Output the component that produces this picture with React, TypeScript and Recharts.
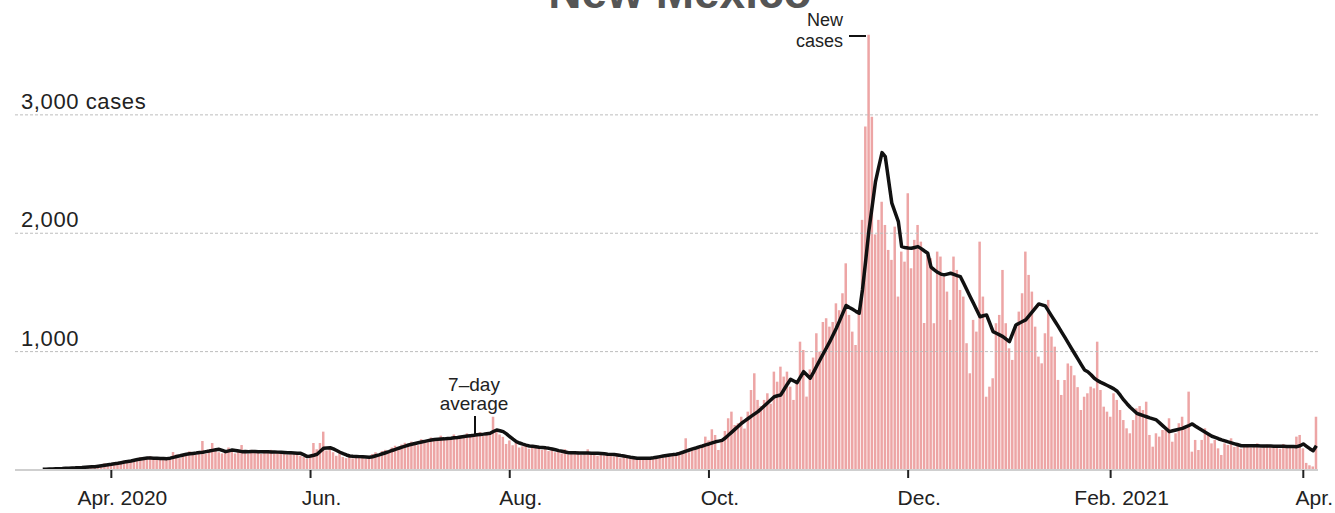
import React from "react";
import {
  ComposedChart,
  Bar,
  Line,
  XAxis,
  YAxis,
  ReferenceLine,
} from "recharts";

// daily new cases, day 0 = Mar. 11, 2020
const casesMar20 = [2, 1, 4, 6, 8, 3, 12, 14, 8, 17, 13, 18, 28, 19, 23, 27, 36, 34, 42, 57, 45];
const casesApr20 = [54, 40, 62, 70, 79, 60, 77, 91, 96, 110, 86, 100, 118, 93, 96, 99, 85, 105, 90, 152, 130, 100, 125, 140, 158, 134, 127, 156, 245, 138];
const casesMay20 = [172, 228, 180, 150, 140, 168, 190, 175, 140, 165, 211, 150, 138, 170, 155, 160, 135, 165, 150, 170, 140, 155, 148, 160, 130, 150, 145, 150, 120, 110, 95];
const casesJun20 = [130, 228, 175, 228, 324, 165, 180, 150, 120, 140, 110, 100, 125, 98, 118, 105, 120, 95, 110, 135, 150, 125, 160, 170, 150, 190, 205, 175, 215, 230];
const casesJul20 = [205, 240, 230, 210, 260, 250, 235, 275, 250, 245, 290, 260, 270, 255, 300, 265, 290, 280, 310, 285, 300, 295, 320, 290, 315, 305, 450, 330, 300, 280, 220];
const casesAug20 = [250, 210, 230, 190, 200, 215, 180, 205, 190, 200, 170, 195, 160, 185, 150, 165, 140, 175, 130, 150, 145, 160, 130, 140, 175, 135, 145, 120, 150, 125, 135];
const casesSep20 = [130, 115, 140, 100, 125, 105, 95, 110, 90, 105, 85, 100, 110, 95, 115, 120, 105, 130, 115, 140, 125, 155, 160, 268, 150, 185, 170, 200, 195, 282];
const casesOct20 = [250, 344, 296, 169, 260, 330, 437, 493, 380, 395, 450, 350, 493, 676, 817, 592, 540, 592, 648, 560, 831, 746, 873, 789, 831, 704, 592, 760, 1084, 1014, 620];
const casesNov20 = [850, 950, 1155, 1000, 1250, 1282, 1211, 1250, 1408, 1350, 1493, 1746, 1310, 1169, 1056, 1324, 2113, 2901, 3676, 2985, 1990, 2113, 2267, 2070, 1859, 1775, 2056, 1465, 1845, 1760];
const casesDec20 = [2338, 1704, 1944, 2070, 1929, 1242, 1831, 1789, 1240, 1845, 1803, 1633, 1507, 1268, 1803, 1690, 1521, 1465, 1071, 817, 1268, 1169, 1929, 1465, 619, 704, 775, 1240, 1310, 1690, 1240];
const casesJan21 = [1028, 930, 1211, 1338, 1493, 1845, 1648, 1507, 1211, 958, 901, 1155, 1437, 1127, 1042, 761, 634, 760, 900, 880, 800, 700, 507, 619, 648, 704, 690, 1084, 676, 535, 493];
const casesFeb21 = [450, 648, 592, 507, 422, 352, 310, 422, 521, 540, 507, 577, 296, 197, 310, 282, 338, 352, 437, 239, 310, 395, 450, 366, 662, 155, 254, 169];
const casesMar21 = [254, 352, 310, 225, 254, 183, 127, 225, 211, 268, 195, 230, 180, 210, 215, 190, 205, 225, 185, 200, 215, 190, 210, 205, 180, 220, 195, 200, 185, 282, 296];
const casesApr21 = [183, 60, 40, 30, 450];

// 7-day average
const avgMar20 = [6, 7, 8, 9, 10, 11, 12, 14, 15, 17, 18, 20, 21, 23, 25, 27, 28, 32, 36, 40, 44];
const avgApr20 = [48, 53, 57, 62, 67, 72, 76, 82, 88, 93, 97, 101, 101, 100, 99, 98, 97, 96, 100, 107, 114, 120, 127, 133, 137, 140, 143, 147, 150, 155];
const avgMay20 = [160, 166, 171, 175, 165, 155, 162, 169, 165, 160, 155, 156, 155, 157, 156, 155, 154, 155, 155, 153, 152, 151, 150, 148, 146, 145, 144, 142, 141, 128, 113];
const avgJun20 = [118, 125, 133, 158, 183, 186, 188, 178, 165, 150, 138, 127, 118, 116, 115, 113, 111, 109, 107, 112, 120, 128, 137, 146, 155, 165, 174, 184, 193, 202];
const avgJul20 = [211, 218, 224, 230, 236, 242, 248, 254, 257, 259, 261, 263, 266, 268, 272, 275, 279, 283, 287, 290, 293, 297, 300, 303, 307, 310, 325, 338, 332, 324, 305];
const avgAug20 = [282, 260, 239, 228, 218, 210, 203, 200, 197, 193, 190, 187, 183, 177, 171, 164, 158, 152, 146, 145, 145, 144, 144, 143, 143, 142, 142, 141, 139, 137, 134];
const avgSep20 = [132, 130, 127, 122, 118, 113, 108, 104, 99, 99, 99, 99, 99, 103, 108, 113, 118, 122, 126, 130, 133, 141, 150, 160, 169, 178, 186, 195, 203, 212];
const avgOct20 = [220, 229, 238, 244, 250, 270, 295, 320, 345, 370, 395, 415, 435, 455, 474, 493, 518, 543, 568, 594, 619, 627, 634, 680, 725, 766, 752, 738, 785, 831, 803];
const avgNov20 = [775, 825, 878, 930, 982, 1033, 1084, 1140, 1197, 1260, 1325, 1390, 1373, 1357, 1340, 1324, 1521, 1770, 2028, 2230, 2436, 2560, 2681, 2647, 2450, 2254, 2176, 2098, 1887, 1880];
const avgDec20 = [1875, 1873, 1880, 1887, 1870, 1850, 1831, 1713, 1690, 1670, 1655, 1648, 1655, 1662, 1652, 1642, 1633, 1577, 1520, 1464, 1408, 1351, 1295, 1303, 1310, 1240, 1169, 1155, 1141, 1127, 1105];
const avgJan21 = [1084, 1155, 1225, 1240, 1254, 1268, 1302, 1336, 1370, 1403, 1395, 1386, 1342, 1298, 1255, 1211, 1165, 1120, 1074, 1028, 982, 937, 891, 845, 830, 805, 775, 755, 740, 727, 714];
const avgFeb21 = [700, 685, 665, 630, 592, 560, 530, 505, 479, 469, 459, 450, 440, 432, 423, 398, 373, 348, 324, 331, 338, 345, 352, 364, 376, 389, 370, 352];
const avgMar21 = [335, 318, 302, 285, 275, 264, 254, 246, 237, 229, 221, 213, 205, 205, 205, 204, 204, 204, 203, 203, 202, 202, 201, 201, 200, 200, 199, 199, 198, 197, 205];
const avgApr21 = [220, 200, 180, 163, 205];

const tickDays = [21, 82, 143, 204, 265, 327, 386];
const tickLabels = ["Apr. 2020", "Jun.", "Aug.", "Oct.", "Dec.", "Feb. 2021", "Apr."];
const yTicks = [1000, 2000, 3000];
const yLabels = ["1,000", "2,000", "3,000 cases"];

const cases = [
  ...casesMar20, ...casesApr20, ...casesMay20, ...casesJun20, ...casesJul20, ...casesAug20,
  ...casesSep20, ...casesOct20, ...casesNov20, ...casesDec20, ...casesJan21, ...casesFeb21,
  ...casesMar21, ...casesApr21,
];
const avg = [
  ...avgMar20, ...avgApr20, ...avgMay20, ...avgJun20, ...avgJul20, ...avgAug20,
  ...avgSep20, ...avgOct20, ...avgNov20, ...avgDec20, ...avgJan21, ...avgFeb21,
  ...avgMar21, ...avgApr21,
];

// a few empty days before the first case so the baseline starts further left
const PAD = 8;
const data: Array<{ day: number; cases: number | null; avg: number | null }> = [];
for (let i = -PAD; i < cases.length; i++) {
  data.push({
    day: i,
    cases: i >= 0 ? cases[i] : null,
    avg: i >= 0 ? avg[i] : null,
  });
}

const FONT = "'Liberation Sans', Arial, sans-serif";

const XTick = (props: any) => {
  const { x, payload } = props;
  const idx = tickDays.indexOf(payload.value);
  return (
    <text x={x + 11} y={505} textAnchor="middle" fontSize={21} fontFamily={FONT} fill="#222">
      {tickLabels[idx]}
    </text>
  );
};

const GridLabel = (props: any) => {
  const { viewBox, text } = props;
  return (
    <text x={21} y={viewBox.y - 6} fontSize={22} letterSpacing={0.6} fontFamily={FONT} fill="#222">
      {text}
    </text>
  );
};

export default function App() {
  return (
    <div style={{ position: "absolute", left: 0, top: 0, width: 1335, height: 513, background: "#fff" }}>
      <ComposedChart
        width={1335}
        height={513}
        data={data}
        margin={{ top: 32, right: 17, bottom: 0, left: 15 }}
      >
        <XAxis
          dataKey="day"
          ticks={tickDays}
          interval={0}
          height={43}
          tick={<XTick />}
          tickSize={8}
          tickLine={{ stroke: "#222", strokeWidth: 2 }}
          axisLine={{ stroke: "#cfcfcf", strokeWidth: 2 }}
        />
        <YAxis hide domain={[0, 3700]} allowDataOverflow />
        {yTicks.map((t, i) => (
          <ReferenceLine
            key={t}
            y={t}
            stroke="#bdbdbd"
            strokeDasharray="3 2"
            label={<GridLabel text={yLabels[i]} />}
          />
        ))}
        <Bar dataKey="cases" fill="#eda5a5" barSize={2.5} isAnimationActive={false} />
        <Line
          dataKey="avg"
          type="linear"
          stroke="#111"
          strokeWidth={3.5}
          strokeLinejoin="round"
          dot={false}
          isAnimationActive={false}
        />
      </ComposedChart>
      <svg
        width={1335}
        height={513}
        style={{ position: "absolute", left: 0, top: 0, pointerEvents: "none" }}
      >
        <text x={680} y={8} textAnchor="middle" fontSize={46} fontWeight="bold" fontFamily={FONT} fill="#555">
          New Mexico
        </text>
        <text x={843} y={26} textAnchor="end" fontSize={18} fontFamily={FONT} fill="#222">New</text>
        <text x={843} y={47} textAnchor="end" fontSize={18} fontFamily={FONT} fill="#222">cases</text>
        <line x1={849} y1={36} x2={866} y2={36} stroke="#111" strokeWidth={2} />
        <text x={474} y={391} textAnchor="middle" fontSize={19} fontFamily={FONT} fill="#222">7–day</text>
        <text x={474} y={410} textAnchor="middle" fontSize={19} fontFamily={FONT} fill="#222">average</text>
        <line x1={475} y1={416} x2={475} y2={434} stroke="#111" strokeWidth={2} />
      </svg>
    </div>
  );
}
